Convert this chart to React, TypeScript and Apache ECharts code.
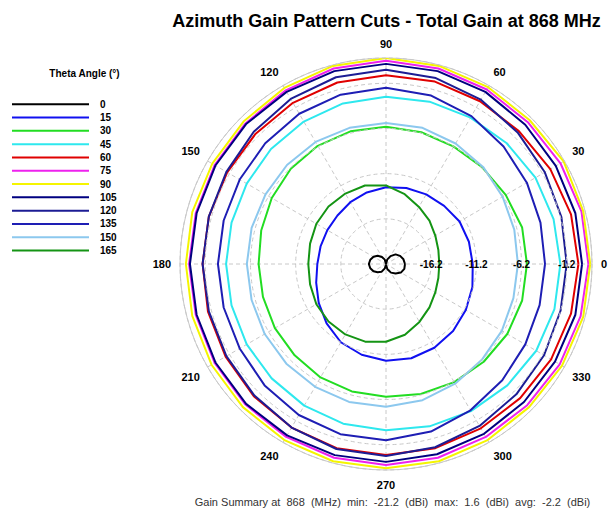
import React, { useEffect, useRef } from 'react';
import * as echarts from 'echarts';

const TITLE = 'Azimuth Gain Pattern Cuts - Total Gain at 868 MHz';
const LEGEND_TITLE = 'Theta Angle (°)';
const SUMMARY = 'Gain Summary at  868  (MHz)  min:  -21.2  (dBi)  max:  1.6  (dBi)  avg:  -2.2  (dBi)';

const R_MIN = -21.2;
const R_MAX = 1.6;
const RING_STEP = 5;
const RING_LABELS = ['-16.2', '-11.2', '-6.2', '-1.2'];

const PHI = [0, 15, 30, 45, 60, 75, 90, 105, 120, 135, 150, 165, 180, 195, 210, 225, 240, 255, 270, 285, 300, 315, 330, 345];

const THETA = ['0', '15', '30', '45', '60', '75', '90', '105', '120', '135', '150', '165'];
const COLORS = ['#000000', '#1010f0', '#22dd22', '#2ee8ee', '#e00000', '#ee22ee', '#f5f500', '#000080', '#1c1c94', '#1e1eb4', '#8cc8ee', '#149414'];

const G_0 = [-19.1, -19.2, -19.4, -19.7, -20.2, -20.7, -21.2, -20.7, -20.3, -19.9, -19.6, -19.4, -19.3, -19.4, -19.6, -19.9, -20.2, -20.7, -21.1, -20.6, -20.1, -19.7, -19.3, -19.1];
const G_15 = [-11.6, -11.7, -11.8, -12.1, -12.3, -12.5, -12.7, -13.0, -13.3, -13.6, -13.7, -13.7, -13.6, -13.2, -12.6, -11.9, -11.2, -10.8, -10.5, -10.4, -10.5, -10.7, -11.0, -11.3];
const G_30 = [-5.6, -5.6, -5.9, -6.1, -6.2, -6.1, -6.0, -6.0, -6.1, -6.3, -6.6, -6.9, -7.1, -7.1, -7.0, -6.9, -6.7, -6.6, -6.5, -6.3, -6.1, -5.9, -5.7, -5.6];
const G_45 = [-1.9, -2.0, -2.1, -2.3, -2.5, -2.6, -2.7, -2.8, -3.0, -3.2, -3.4, -3.5, -3.5, -3.5, -3.4, -3.3, -3.1, -2.9, -2.8, -2.6, -2.4, -2.2, -2.0, -1.9];
const G_60 = [0.1, 0.0, -0.2, -0.4, -0.4, -0.3, -0.3, -0.4, -0.6, -0.8, -0.9, -0.9, -0.9, -0.8, -0.7, -0.5, -0.3, -0.1, -0.05, -0.1, -0.2, -0.2, -0.1, 0.0];
const G_75 = [1.2, 1.2, 1.1, 1.0, 1.1, 1.2, 1.3, 1.2, 1.0, 0.8, 0.7, 0.6, 0.6, 0.6, 0.7, 0.8, 0.9, 1.0, 1.05, 1.0, 0.9, 0.9, 1.0, 1.1];
const G_90 = [1.4, 1.4, 1.5, 1.3, 1.4, 1.5, 1.6, 1.5, 1.3, 1.1, 1.0, 1.0, 0.95, 1.0, 1.1, 1.2, 1.3, 1.4, 1.4, 1.4, 1.3, 1.2, 1.3, 1.4];
const G_105 = [0.5, 0.5, 0.5, 0.6, 0.8, 0.9, 0.95, 0.9, 0.8, 0.7, 0.6, 0.5, 0.5, 0.5, 0.6, 0.7, 0.7, 0.7, 0.7, 0.6, 0.5, 0.4, 0.4, 0.5];
const G_120 = [-1.2, -1.1, -0.9, -0.6, -0.2, 0.1, 0.3, 0.2, -0.1, -0.5, -0.8, -0.9, -0.9, -0.9, -0.8, -0.6, -0.3, 0.0, 0.05, -0.2, -0.5, -0.8, -1.0, -1.2];
const G_135 = [-3.6, -3.5, -3.2, -2.8, -2.3, -1.9, -1.7, -1.8, -2.0, -2.3, -2.5, -2.6, -2.6, -2.6, -2.5, -2.2, -1.9, -1.7, -1.7, -2.0, -2.5, -3.0, -3.4, -3.6];
const G_150 = [-6.6, -6.5, -6.3, -6.0, -5.8, -5.6, -5.6, -5.6, -5.6, -5.7, -5.8, -5.8, -5.8, -5.8, -5.7, -5.6, -5.5, -5.4, -5.4, -5.6, -5.9, -6.2, -6.4, -6.6];
const G_165 = [-15.3, -15.2, -14.9, -14.4, -13.9, -13.2, -12.5, -12.2, -12.2, -12.2, -12.3, -12.5, -12.6, -12.5, -12.3, -12.2, -12.2, -12.3, -12.6, -13.1, -13.8, -14.4, -14.9, -15.2];

const GAINS = [G_0, G_15, G_30, G_45, G_60, G_75, G_90, G_105, G_120, G_135, G_150, G_165];

const FONT = '"Liberation Sans", Arial, sans-serif';

export default function App() {
  const ref = useRef<HTMLDivElement>(null);

  useEffect(() => {
    if (!ref.current) return;
    const chart = echarts.init(ref.current, undefined, { renderer: 'svg' });

    const series = GAINS.map((g, k) => {
      const pts = g.map((v, i) => [v - R_MIN, PHI[i]]);
      pts.push([g[0] - R_MIN, 360]);
      return {
        name: THETA[k],
        type: 'line',
        coordinateSystem: 'polar',
        data: pts,
        symbol: 'none',
        smooth: false,
        color: COLORS[k],
        lineStyle: { width: 2, color: COLORS[k] },
        z: 3,
      };
    });

    chart.setOption({
      animation: false,
      backgroundColor: '#ffffff',
      textStyle: { fontFamily: FONT },
      polar: { center: [386, 264], radius: 206 },
      angleAxis: {
        type: 'value',
        min: 0,
        max: 360,
        interval: 30,
        startAngle: 0,
        clockwise: false,
        axisLine: { show: true, lineStyle: { color: '#c8c8c8', width: 1 } },
        axisTick: { show: false },
        axisLabel: {
          margin: 9,
          color: '#000',
          fontWeight: 'bold',
          fontSize: 11,
          fontFamily: FONT,
          formatter: (v: number) => (v >= 360 ? '' : String(v)),
        },
        splitLine: { show: true, lineStyle: { color: '#c8c8c8', type: [4, 3], width: 1 } },
      },
      radiusAxis: {
        type: 'value',
        min: 0,
        max: R_MAX - R_MIN,
        interval: RING_STEP,
        axisLine: { show: false },
        axisTick: { show: false },
        axisLabel: {
          margin: 0,
          color: '#000',
          fontWeight: 'bold',
          fontSize: 10,
          fontFamily: FONT,
          align: 'center',
          verticalAlign: 'middle',
          formatter: (v: number) => {
            const idx = Math.round(v / RING_STEP) - 1;
            if (Math.abs(v - Math.round(v / RING_STEP) * RING_STEP) > 0.01) return '';
            return idx >= 0 && idx < RING_LABELS.length ? RING_LABELS[idx] : '';
          },
        },
        splitLine: { show: true, showMaxLine: false, lineStyle: { color: '#c8c8c8', type: [4, 3], width: 1 } },
        z: 5,
      },
      legend: {
        orient: 'vertical',
        left: 12,
        top: 97.6,
        padding: 0,
        icon: 'rect',
        itemWidth: 77,
        itemHeight: 2,
        itemGap: 0,
        selectedMode: false,
        textStyle: { fontSize: 10, fontWeight: 'bold', color: '#000', lineHeight: 13.3, padding: [0, 0, 0, 6], fontFamily: FONT },
        data: THETA,
      },
      graphic: [
        {
          type: 'text',
          x: 386.5,
          y: 20.5,
          style: { text: TITLE, font: 'bold 18px ' + FONT, fill: '#000', align: 'center', verticalAlign: 'middle' },
        },
        {
          type: 'text',
          x: 84.5,
          y: 73,
          style: { text: LEGEND_TITLE, font: 'bold 10px ' + FONT, fill: '#000', align: 'center', verticalAlign: 'middle' },
        },
        {
          type: 'text',
          x: 392.5,
          y: 502,
          style: { text: SUMMARY, font: '11px ' + FONT, fill: '#333', align: 'center', verticalAlign: 'middle' },
        },
      ],
      series,
    });

    return () => chart.dispose();
  }, []);

  return <div ref={ref} style={{ position: 'fixed', left: 0, top: 0, width: 608, height: 514 }} />;
}
